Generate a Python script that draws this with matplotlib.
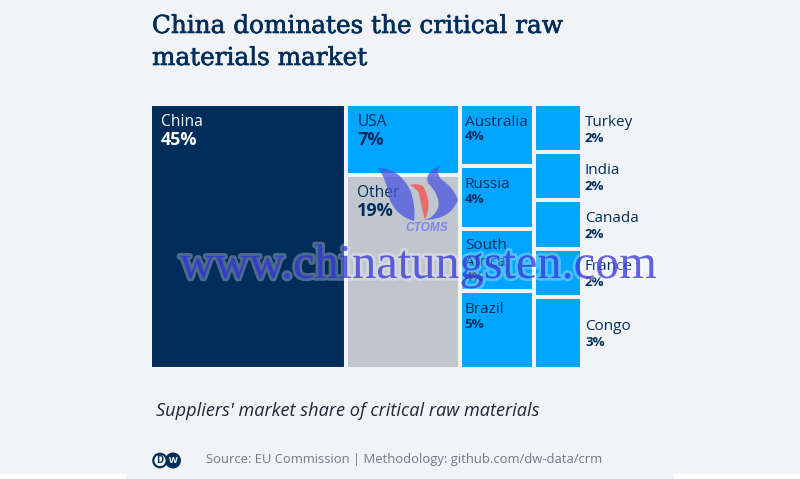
"""
Treemap of supplier market shares for critical raw materials.
"""

import matplotlib
matplotlib.use("Agg")
import matplotlib.pyplot as plt
import matplotlib.patheffects as pe
from matplotlib.patches import Circle, PathPatch, Rectangle
from matplotlib.path import Path

BG = "#f1f3f7"
NAVY = "#002d5a"
BLUE = "#00a5ff"
GREY = "#bfc6ce"
SANS = "Open Sans"

# one list per treemap column
col_china = ["China"]
col_china_vals = [45]
col_usa = ["USA", "Other"]
col_usa_vals = [7, 19]
col_aus = ["Australia", "Russia", "South\nAfrica", "Brazil"]
col_aus_vals = [4, 4, 4, 5]
col_small = ["Turkey", "India", "Canada", "France", "Congo"]
col_small_vals = [2, 2, 2, 2, 3]

columns = [
    (col_china, col_china_vals),
    (col_usa, col_usa_vals),
    (col_aus, col_aus_vals),
    (col_small, col_small_vals),
]
colors = {"China": NAVY, "Other": GREY}
total = sum(sum(v) for _, v in columns)

W, H = 800, 479
fig = plt.figure(figsize=(W / 100, H / 100), dpi=100, facecolor=BG)


def fx(px):
    return px / W


def fy(py):
    return 1 - py / H


# overlay in pixel coordinates for page furniture
page = fig.add_axes([0, 0, 1, 1], zorder=0)
page.set_xlim(0, W)
page.set_ylim(H, 0)
page.axis("off")
page.add_patch(Rectangle((0, 474), 126, 5, color="white", lw=0))
page.add_patch(Rectangle((674, 474), 126, 5, color="white", lw=0))

# treemap; the bar edge in background colour makes the gaps
ax = fig.add_axes([fx(150), fy(369), 432 / W, 265 / H], zorder=1)
ax.set_xlim(0, total)
ax.set_ylim(1, 0)
ax.axis("off")

left = 0
for names, vals in columns:
    width = sum(vals)
    top = 0
    for name, val in zip(names, vals):
        h = val / width
        ax.bar(left, h, width=width, bottom=top, align="edge",
               color=colors.get(name, BLUE), edgecolor=BG, linewidth=2.9,
               clip_on=False)
        pct = f"{val}%"
        x0 = left / total * 432 + 150
        y0 = top * 265 + 104
        if names is col_small:
            # the small boxes have their labels beside them
            xt = x0 + width / total * 432 + 3
            yc = y0 + h * 265 / 2
            fig.text(fx(xt), fy(yc - 6), name, color=NAVY, family=SANS,
                     fontsize=11, ha="left", va="center", zorder=3)
            fig.text(fx(xt), fy(yc + 10), pct, color=NAVY, family=SANS,
                     fontsize=9.6, fontweight="bold", ha="left", va="center", zorder=3)
        elif names is col_aus:
            lines = name.count("\n")
            fig.text(fx(x0 + 5), fy(y0 + 11 - lines * 2), name, color=NAVY, family=SANS,
                     fontsize=11, linespacing=1.25, ha="left", va="top", zorder=3)
            fig.text(fx(x0 + 5), fy(y0 + 33 + lines * 16), pct, color=NAVY, family=SANS,
                     fontsize=9.6, fontweight="bold", ha="left", va="center", zorder=3)
        else:
            c = "white" if name == "China" else NAVY
            fig.text(fx(x0 + 11), fy(y0 + 18), name, color=c, family=SANS,
                     fontsize=11.2, ha="left", va="center", zorder=3)
            fig.text(fx(x0 + 11), fy(y0 + 36), pct, color=c, family=SANS,
                     fontsize=13, fontweight="bold", ha="left", va="center", zorder=3)
        top += h
    left += width

# title and notes
title_fx = [pe.withStroke(linewidth=0.45, foreground=NAVY)]
fig.text(fx(152), fy(33), "China dominates the critical raw", color=NAVY,
         family="DejaVu Serif", fontsize=17.8, ha="left", va="baseline",
         path_effects=title_fx)
fig.text(fx(152), fy(65), "materials market", color=NAVY,
         family="DejaVu Serif", fontsize=17.8, ha="left", va="baseline",
         path_effects=title_fx)
fig.text(fx(156), fy(411), "Suppliers' market share of critical raw materials",
         color="#1c2733", family="Open Sans", style="italic", fontsize=13.05,
         ha="left", va="center")
fig.text(fx(206), fy(459), "Source: EU Commission | Methodology: github.com/dw-data/crm",
         color="#6f7c8a", family="Open Sans", fontsize=9.4, ha="left", va="center")

# DW logo
logo = fig.add_axes([0, 0, 1, 1], zorder=4)
logo.set_xlim(0, W)
logo.set_ylim(H, 0)
logo.axis("off")
logo.add_patch(Circle((173, 460.5), 8, color=NAVY, lw=0))
logo.add_patch(Circle((160, 460.5), 6.7, facecolor="white", edgecolor=NAVY, lw=1.6))
logo.text(160, 460.7, "D", color=NAVY, family=SANS, fontweight="bold", fontsize=7,
          ha="center", va="center")
logo.text(173, 460.7, "W", color="white", family=SANS, fontweight="bold", fontsize=6.5,
          ha="center", va="center")

# watermark logo
C3 = Path.CURVE3
left_swoosh = Path(
    [(378, 168), (400, 168), (411, 192), (416, 208), (414, 221),
     (396, 216), (389, 198), (387, 180), (378, 168)],
    [Path.MOVETO, C3, C3, C3, C3, C3, C3, C3, C3])
right_swoosh = Path(
    [(441, 165), (424, 172), (428, 183), (441, 196), (438, 208), (433, 219), (424, 220),
     (450, 220), (458, 200), (454, 188), (442, 180), (434, 172), (441, 165)],
    [Path.MOVETO, C3, C3, C3, C3, C3, C3, C3, C3, C3, C3, C3, C3])
red_swoosh = Path(
    [(410, 185), (417, 183), (423, 186), (433, 203), (425, 220),
     (421, 205), (419, 193), (416, 188), (410, 185)],
    [Path.MOVETO, C3, C3, C3, C3, C3, C3, C3, C3])
logo.add_patch(PathPatch(left_swoosh, facecolor="#4a55e0", edgecolor="none", alpha=0.75))
logo.add_patch(PathPatch(right_swoosh, facecolor="#4a55e0", edgecolor="none", alpha=0.75))
logo.add_patch(PathPatch(red_swoosh, facecolor="#f0605f", edgecolor="none", alpha=0.9))
logo.text(426.5, 228, "CTOMS", color="#7c86ea", family="Liberation Sans", style="italic",
          fontweight="bold", fontsize=8.6, ha="center", va="center")

# watermark text
logo.text(419, 266, "www.chinatungsten.com", color="#2020d8", alpha=0.6,
          family="Liberation Serif", fontsize=34.8, ha="center", va="center",
          path_effects=[pe.Stroke(linewidth=4, foreground="#ffffff", alpha=0.3), pe.Normal()])

fig.savefig("out.png", dpi=100, facecolor=BG)
plt.close(fig)
